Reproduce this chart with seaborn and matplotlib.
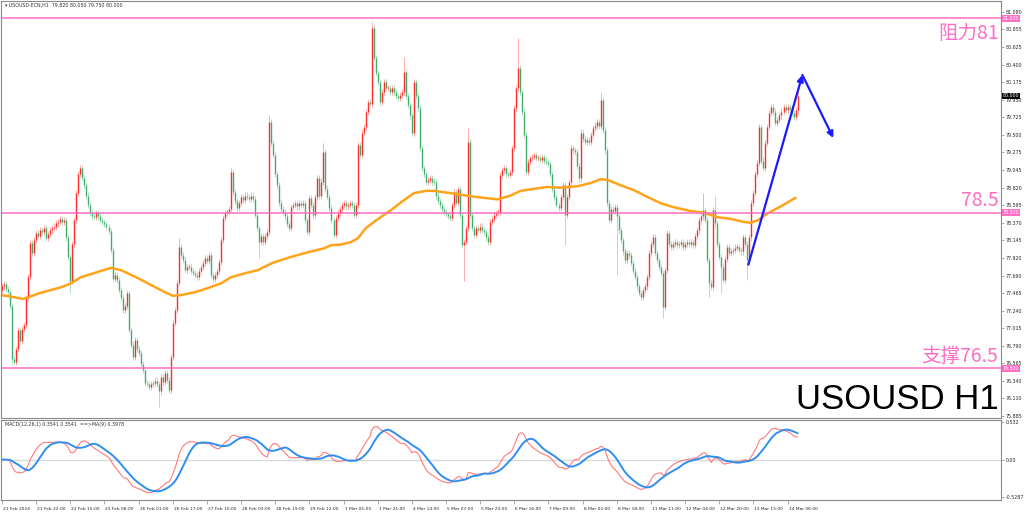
import numpy as np
import pandas as pd
import seaborn as sns
import matplotlib.pyplot as plt
import matplotlib.transforms as mtransforms

sns.set_style("white")
plt.rcParams['font.family'] = ['DejaVu Sans']

# hourly closes (one value per H1 bar)
closes_feb21_23 = [
    77.55, 77.58, 77.52, 77.48, 77.30, 76.62, 76.58, 76.75, 76.99, 76.85,
    77.00, 77.05, 77.40, 77.67, 78.11, 77.98, 78.15, 78.24, 78.20, 78.28,
    78.25, 78.30, 78.17, 78.22, 78.27, 78.30, 78.32, 78.36, 78.38, 78.42,
    78.38, 78.40, 78.18, 77.93, 77.62, 78.10, 78.40, 78.75, 79.00, 79.07,
    78.95, 78.85, 78.72, 78.60, 78.50, 78.45, 78.44, 78.50, 78.45, 78.40,
    78.38, 78.35, 78.31, 78.26, 78.02, 77.65, 77.70, 77.63, 77.50, 77.40,
    77.25, 77.30, 77.47, 76.99, 76.80, 76.64, 76.86, 76.75, 76.69, 76.55,
    76.48, 76.31, 76.30, 76.26, 76.30, 76.31, 76.34, 76.30, 76.20, 76.38,
    76.32, 76.44, 76.35, 76.22, 76.64, 77.08, 77.25, 77.59, 78.06, 77.95,
    77.89, 77.76, 77.80, 77.80, 77.75, 77.72, 77.70, 77.67, 77.75, 77.80,
]
closes_feb27_mar4 = [
    77.85, 77.92, 77.88, 77.95, 77.70, 77.65, 77.70, 77.75, 77.86, 78.15,
    78.43, 78.50, 78.51, 78.55, 79.02, 78.76, 78.65, 78.56, 78.62, 78.70,
    78.66, 78.72, 78.70, 78.68, 78.72, 78.68, 78.47, 78.30, 78.12, 78.20,
    78.12, 78.20, 78.25, 79.66, 79.40, 79.24, 79.00, 78.85, 78.63, 78.55,
    78.51, 78.45, 78.35, 78.30, 78.57, 78.60, 78.62, 78.58, 78.62, 78.60,
    78.62, 78.40, 78.25, 78.69, 78.60, 78.47, 78.70, 78.94, 78.72, 78.90,
    79.28, 78.81, 78.70, 78.56, 78.40, 78.21, 78.43, 78.50, 78.55, 78.60,
    78.62, 78.58, 78.60, 78.62, 78.60, 78.47, 78.60, 79.37, 79.24, 79.53,
    79.60, 79.79, 79.92, 79.90, 80.87, 80.49, 80.30, 80.18, 79.92, 80.05,
    80.18, 80.10, 80.10, 80.05, 80.10, 80.05, 80.00, 79.97, 80.01, 80.05,
]
closes_mar4_8 = [
    80.31, 80.00, 79.88, 79.75, 79.53, 80.18, 80.00, 79.84, 79.33, 79.07,
    79.00, 78.89, 78.92, 78.94, 78.90, 78.89, 78.72, 78.65, 78.60, 78.55,
    78.51, 78.48, 78.46, 78.43, 78.60, 78.76, 78.62, 78.80, 78.47, 78.08,
    78.12, 78.30, 79.41, 78.47, 78.30, 78.21, 78.30, 78.28, 78.32, 78.28,
    78.25, 78.18, 78.12, 78.38, 78.42, 78.47, 78.50, 78.51, 78.98, 79.05,
    79.07, 79.00, 78.98, 79.02, 79.33, 79.84, 80.10, 80.36, 80.05, 79.80,
    79.50, 79.02, 79.15, 79.20, 79.22, 79.24, 79.20, 79.20, 79.18, 79.22,
    79.17, 79.15, 79.13, 79.00, 78.81, 78.70, 78.60, 78.56, 78.70, 78.85,
    78.47, 78.70, 78.89, 79.33, 79.30, 79.28, 79.10, 78.94, 79.53, 79.45,
    79.41, 79.43, 79.41, 79.50, 79.59, 79.62, 79.66, 79.62,
]
closes_mar8_14 = [
    79.95, 79.56, 79.30, 78.62, 78.40, 78.55, 78.52, 78.57, 78.45, 78.27,
    78.15, 78.00, 77.89, 77.98, 77.95, 77.85, 77.75, 77.67, 77.55, 77.47,
    77.41, 77.50, 77.55, 77.67, 77.98, 78.10, 78.18, 77.98, 77.89, 77.80,
    77.72, 77.29, 77.76, 78.24, 78.10, 78.06, 78.10, 78.12, 78.08, 78.10,
    78.12, 78.06, 78.10, 78.12, 78.10, 78.12, 78.08, 78.20, 78.27, 78.40,
    78.45, 78.53, 78.40, 77.89, 77.60, 77.54, 78.53, 78.36, 78.10, 77.93,
    77.80, 77.63, 77.90, 78.06, 77.98, 78.00, 78.02, 78.05, 78.06, 78.02,
    78.00, 78.18, 78.10, 77.89, 78.18, 78.62, 78.75, 79.00, 79.14, 79.60,
    79.17, 79.08, 79.40, 79.60, 79.78, 79.86, 79.80, 79.65, 79.69, 79.75,
    79.80, 79.86, 79.82, 79.86, 79.83, 79.78, 79.73, 79.82, 80.00,
]
first_open = 77.50
last_bar = dict(open=79.82, high=80.05, low=79.75, close=80.00)

# long wicks that stand out (bar index -> price)
wick_highs = {39: 79.11, 88: 78.17, 114: 79.08, 133: 79.75, 160: 79.39,
              184: 80.95, 200: 80.50, 232: 79.59, 257: 80.74, 298: 80.04,
              349: 78.75, 355: 78.72}
wick_lows = {5: 76.54, 34: 77.47, 78: 76.00, 128: 77.92, 230: 77.62,
             280: 78.08, 306: 77.70, 329: 77.14, 352: 77.41, 358: 77.47,
             371: 77.63}

# orange moving average (bar index, price)
ma_bar = [-0.5, 4.5, 10.4, 19.4, 29.4, 34.3, 39.3, 46.8, 54.2, 59.2, 66.7, 74.1,
          81.6, 85.1, 89.1, 96.5, 102.5, 109, 114, 122.4, 127.4, 130.3, 135.3,
          143.8, 152.2, 160.2, 163.7, 168.7, 173.6, 177.1, 181.1, 185.1, 190,
          193.5, 198.5, 205, 211, 215, 223.4, 233.3, 239.8, 246.8, 253.2, 258.2,
          263.2, 271.6, 278.1, 286.6, 293, 298, 301.5, 308, 314.4, 321.4, 327.9,
          334.3, 342.8, 349.3, 356.2, 362.7, 369.2, 372.6, 376.1, 381.1, 387.6, 395]
ma_val = [77.44, 77.42, 77.39, 77.47, 77.54, 77.59, 77.67, 77.73, 77.79, 77.76, 77.67, 77.57,
          77.47, 77.43, 77.44, 77.48, 77.53, 77.59, 77.67, 77.73, 77.76, 77.80, 77.86,
          77.93, 77.99, 78.04, 78.08, 78.09, 78.12, 78.17, 78.30, 78.38, 78.47,
          78.53, 78.63, 78.75, 78.78, 78.78, 78.75, 78.71, 78.69, 78.67, 78.72, 78.78,
          78.80, 78.83, 78.82, 78.84, 78.88, 78.93, 78.92, 78.85, 78.79, 78.70, 78.62,
          78.57, 78.52, 78.50, 78.44, 78.42, 78.38, 78.37, 78.40, 78.49, 78.58, 78.69]

# support / resistance levels and hand-drawn arrow
levels = [81.0, 78.5, 76.5]
level_texts = ["阻力81", "78.5", "支撑76.5"]
arrow_bar = [371.5, 398.4, 413.8]
arrow_price = [77.83, 80.27, 79.46]

price_ticks = [81.080, 80.855, 80.625, 80.400, 80.175, 79.950, 79.725, 79.500, 79.275,
               79.045, 78.820, 78.595, 78.370, 78.145, 77.920, 77.690, 77.465, 77.240,
               77.015, 76.790, 76.565, 76.340, 76.110, 75.885]
time_labels = ["21 Feb 2024", "21 Feb 22:00", "22 Feb 15:00", "23 Feb 08:00", "26 Feb 01:00",
               "26 Feb 17:00", "27 Feb 10:00", "28 Feb 03:00", "28 Feb 19:00", "29 Feb 12:00",
               "1 Mar 05:00", "1 Mar 21:00", "4 Mar 14:00", "5 Mar 07:00", "5 Mar 23:00",
               "6 Mar 16:00", "7 Mar 09:00", "8 Mar 02:00", "8 Mar 18:00", "11 Mar 11:00",
               "12 Mar 04:00", "12 Mar 20:00", "13 Mar 13:00", "14 Mar 06:00"]
bars_per_label = 17

# build OHLC
closes = np.array(closes_feb21_23 + closes_feb27_mar4 + closes_mar4_8 + closes_mar8_14)
idx = np.arange(len(closes))
opens = np.r_[first_open, closes[:-1]]
opens[-1] = last_bar["open"]
highs = np.maximum(opens, closes) + 0.04
lows = np.minimum(opens, closes) - 0.04
highs[-1], lows[-1] = last_bar["high"], last_bar["low"]
for i, v in wick_highs.items():
    highs[i] = max(highs[i], v)
for i, v in wick_lows.items():
    lows[i] = min(lows[i], v)

# MACD(12,26,1) and its MA(9)
s = pd.Series(closes)
macd = s.ewm(span=12, adjust=False).mean() - s.ewm(span=26, adjust=False).mean()
signal = macd.rolling(9, min_periods=1).mean()

PINK = "#ff6ec4"
RED = "#ff2a2a"
GREEN = "#3fae6a"
GRID = "#8a8a8a"

fig = plt.figure(figsize=(10.24, 5.13), dpi=100)
ax = fig.add_axes([0.001, 1 - 418 / 513, 0.977, 417 / 513])
ax2 = fig.add_axes([0.001, 1 - 500 / 513, 0.977, 80 / 513])

# candles
up = closes >= opens
for mask, col in [(up, RED), (~up, GREEN)]:
    ax.vlines(idx[mask], lows[mask], highs[mask], color=col, lw=0.6, alpha=0.45)
    lo = np.minimum(opens, closes)[mask]
    hi = np.maximum(np.maximum(opens, closes)[mask], lo + 0.015)
    ax.vlines(idx[mask], lo, hi, color=col, lw=1.0)

sns.lineplot(x=ma_bar, y=ma_val, ax=ax, color="#ffa31a", lw=1.8)

for lv in levels:
    ax.axhline(lv, color=PINK, lw=1.1)

blend = mtransforms.blended_transform_factory(ax.transAxes, ax.transData)
cjk = ['Noto Sans CJK SC', 'DejaVu Sans']
ax.text(0.997, 80.80, level_texts[0], transform=blend, ha='right', va='center',
        fontsize=14, color=PINK, family=cjk)
ax.text(0.997, 78.52, level_texts[1], transform=blend, ha='right', va='bottom',
        fontsize=14, color=PINK, family=cjk)
ax.text(0.997, 76.52, level_texts[2], transform=blend, ha='right', va='bottom',
        fontsize=14, color=PINK, family=cjk)
ax.text(0.997, 76.10, "USOUSD H1", transform=blend, ha='right', va='center',
        fontsize=25, color="black", family=['Liberation Sans'])

# arrow
ax.annotate("", xy=(arrow_bar[1], arrow_price[1]), xytext=(arrow_bar[0], arrow_price[0]),
            arrowprops=dict(arrowstyle='-|>', color="#1a1aff", lw=1.6, mutation_scale=9,
                            shrinkA=0, shrinkB=0))
ax.annotate("", xy=(arrow_bar[2], arrow_price[2]), xytext=(arrow_bar[1], arrow_price[1]),
            arrowprops=dict(arrowstyle='-|>', color="#1a1aff", lw=1.6, mutation_scale=9,
                            shrinkA=0, shrinkB=0))

xlim = (-0.5, 497.5)
ax.set_xlim(*xlim)
ax.set_ylim(75.859, 81.221)
ax.yaxis.tick_right()
ax.set_yticks(price_ticks)
ax.set_yticklabels([f"{t:.3f}" for t in price_ticks])
ax.tick_params(axis='y', labelsize=3.4, length=2, width=0.5, color=GRID, pad=1, right=True)
ax.set_xticks([])
ax.set_xlabel("")
ax.set_ylabel("")

# price boxes on the axis
for lv in levels:
    ax.text(1.001, lv, f"{lv:.3f}", transform=blend, ha='left', va='center', fontsize=3.4,
            color='white', clip_on=False,
            bbox=dict(boxstyle='square,pad=0.2', fc=PINK, ec='none'))
ax.text(1.001, last_bar["close"], f"{last_bar['close']:.3f}", transform=blend, ha='left',
        va='center', fontsize=3.4, color='white', clip_on=False,
        bbox=dict(boxstyle='square,pad=0.2', fc='black', ec='none'))

ax.text(0.004, 0.996, "\u25be USOUSD-ECN,H1  79.820 80.050 79.750 80.000",
        transform=ax.transAxes, ha='left', va='top', fontsize=3.4, color='#333333')

# MACD panel
ax2.axhline(0, color="#d9d9d9", lw=1.0)
sns.lineplot(x=idx, y=macd.values, ax=ax2, color="#ff7a7a", lw=0.8)
sns.lineplot(x=idx, y=signal.values, ax=ax2, color="#2f8ef0", lw=1.4)
ax2.set_xlim(*xlim)
ax2.set_ylim(-0.571, 0.560)
ax2.yaxis.tick_right()
ax2.set_yticks([0.532, 0.0, -0.5287])
ax2.set_yticklabels(["0.532", "0.00", "-0.5287"])
ax2.tick_params(axis='y', labelsize=3.4, length=2, width=0.5, color=GRID, pad=1, right=True)
ax2.set_xticks([bars_per_label * k for k in range(len(time_labels))])
ax2.set_xticklabels(time_labels, ha='left')
ax2.tick_params(axis='x', labelsize=3.2, length=3, width=0.5, color=GRID, pad=2, bottom=True)
offset = mtransforms.ScaledTranslation(1 / 100, 0, fig.dpi_scale_trans)
for lab in ax2.get_xticklabels():
    lab.set_transform(lab.get_transform() + offset)
ax2.set_xlabel("")
ax2.set_ylabel("")
ax2.text(0.004, 0.97, "MACD(12,26,1) 0.3541 0.3541  ==>MA(9) 0.3978",
         transform=ax2.transAxes, ha='left', va='top', fontsize=3.4, color='#333333')

for a in (ax, ax2):
    for sp in a.spines.values():
        sp.set_color(GRID)
        sp.set_linewidth(0.8)

fig.savefig("out.png", dpi=100)
